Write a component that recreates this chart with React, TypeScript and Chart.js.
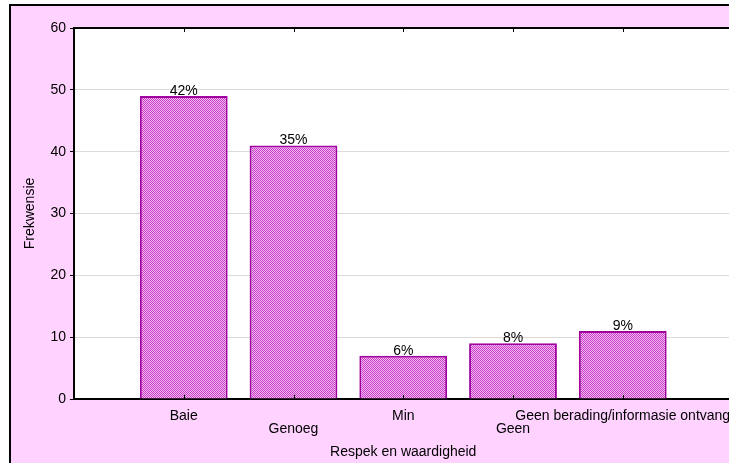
import React, { useEffect, useRef } from "react";
import { Chart, registerables } from "chart.js";

Chart.register(...registerables);

const categories = ["Baie", "Genoeg", "Min", "Geen", "Geen berading/informasie ontvang"];
const frequencies = [49, 41, 7, 9, 11];
const percentLabels = ["42%", "35%", "6%", "8%", "9%"];
const yMin = 0;
const yMax = 60;
const yStep = 10;
const xTitle = "Respek en waardigheid";
const yTitle = "Frekwensie";

const FONT = "'Liberation Sans', Arial, sans-serif";
const FS = 14;

function makePattern(): CanvasPattern | string {
  const c = document.createElement("canvas");
  c.width = 2;
  c.height = 2;
  const g = c.getContext("2d");
  if (!g) return "#D070D0";
  g.fillStyle = "#F4BAF4";
  g.fillRect(0, 0, 2, 2);
  g.fillStyle = "#C83CC8";
  g.fillRect(0, 0, 1, 1);
  g.fillRect(1, 1, 1, 1);
  const p = g.createPattern(c, "repeat");
  return p || "#D070D0";
}

const bgPlugin = {
  id: "bgPlugin",
  beforeDraw(chart: any) {
    const { ctx, chartArea, width, height } = chart;
    ctx.save();
    ctx.fillStyle = "#FFFFFF";
    ctx.fillRect(0, 0, width, height);
    ctx.fillStyle = "#FFD2FF";
    ctx.fillRect(10, 5, width - 10, height - 5);
    ctx.strokeStyle = "#000";
    ctx.lineWidth = 2;
    ctx.beginPath();
    ctx.moveTo(10, height);
    ctx.lineTo(10, 5);
    ctx.lineTo(width, 5);
    ctx.stroke();
    ctx.fillStyle = "#FFFFFF";
    ctx.fillRect(chartArea.left, chartArea.top, chartArea.right - chartArea.left, chartArea.bottom - chartArea.top);
    ctx.restore();
  },
  afterDraw(chart: any) {
    const { ctx, chartArea } = chart;
    const xs = chart.scales.x;
    ctx.save();
    ctx.strokeStyle = "#000";
    ctx.lineWidth = 2;
    ctx.beginPath();
    ctx.moveTo(chartArea.left - 1, chartArea.top);
    ctx.lineTo(chartArea.right, chartArea.top);
    ctx.lineTo(chartArea.right, chartArea.bottom);
    ctx.stroke();
    ctx.lineWidth = 1;
    categories.forEach((_, i) => {
      const x = Math.round(xs.getPixelForValue(i + 1)) + 0.5;
      ctx.beginPath();
      ctx.moveTo(x, chartArea.bottom);
      ctx.lineTo(x, chartArea.bottom - 4);
      ctx.moveTo(x, chartArea.top);
      ctx.lineTo(x, chartArea.top + 4);
      ctx.stroke();
    });
    ctx.restore();
  },
  afterDatasetsDraw(chart: any) {
    const { ctx } = chart;
    const meta = chart.getDatasetMeta(0);
    ctx.save();
    ctx.font = FS + "px " + FONT;
    ctx.fillStyle = "#000";
    ctx.textAlign = "center";
    ctx.textBaseline = "alphabetic";
    meta.data.forEach((el: any, i: number) => {
      ctx.fillText(percentLabels[i], el.x, el.y - 1);
    });
    ctx.restore();
  },
};

export default function App() {
  const ref = useRef<HTMLCanvasElement | null>(null);

  useEffect(() => {
    if (!ref.current) return;
    Chart.defaults.font.family = FONT;
    Chart.defaults.font.size = FS;
    Chart.defaults.color = "#000";
    const chart = new Chart(ref.current, {
      type: "bar",
      data: {
        datasets: [
          {
            data: categories.map((_, i) => ({ x: i + 1, y: frequencies[i] })) as any,
            backgroundColor: makePattern() as any,
            borderColor: "#A000A0",
            borderWidth: 2,
            barPercentage: 0.8,
            categoryPercentage: 1,
          },
        ],
      },
      options: {
        animation: false,
        responsive: false,
        layout: { padding: { left: 10, top: 28, right: 7.5, bottom: 0 } },
        plugins: { legend: { display: false }, tooltip: { enabled: false } },
        scales: {
          x: {
            type: "linear",
            offset: false,
            min: 0,
            max: categories.length + 1,
            afterBuildTicks: (s: any) => {
              s.ticks = categories.map((_, i) => ({ value: i + 1 }));
            },
            afterFit: (s: any) => {
              s.height = 64;
              s.paddingLeft = 0;
              s.paddingRight = 0;
            },
            grid: { display: false, drawTicks: false, offset: false },
            border: { display: true, color: "#000", width: 2 },
            ticks: {
              autoSkip: false,
              maxRotation: 0,
              minRotation: 0,
              padding: 11,
              color: "#000",
              font: { size: FS, family: FONT, lineHeight: 0.93 },
              callback: (v: any) => {
                const i = Math.round(Number(v)) - 1;
                const lbl = categories[i] ?? "";
                return i % 2 === 1 ? ["", lbl] : lbl;
              },
            },
            title: {
              display: true,
              text: xTitle,
              color: "#000",
              font: { size: FS, family: FONT },
              padding: { top: 0, bottom: 2 },
            },
          },
          y: {
            min: yMin,
            max: yMax,
            afterFit: (s: any) => {
              s.width = 64;
            },
            grid: { color: "#DADADA", tickColor: "#000", tickLength: 4, lineWidth: 1 },
            border: { display: true, color: "#000", width: 2 },
            ticks: {
              stepSize: yStep,
              padding: 4,
              color: "#000",
              font: { size: FS, family: FONT },
            },
            title: {
              display: true,
              text: yTitle,
              color: "#000",
              font: { size: FS, family: FONT },
              padding: { top: 11.6, bottom: 0 },
            },
          },
        },
      },
      plugins: [bgPlugin],
    });
    return () => chart.destroy();
  }, []);

  return (
    <div style={{ position: "fixed", left: 0, top: 0, width: 729, height: 463, overflow: "hidden", background: "#fff" }}>
      <canvas ref={ref} width={740} height={463} style={{ display: "block", width: 740, height: 463 }} />
    </div>
  );
}
